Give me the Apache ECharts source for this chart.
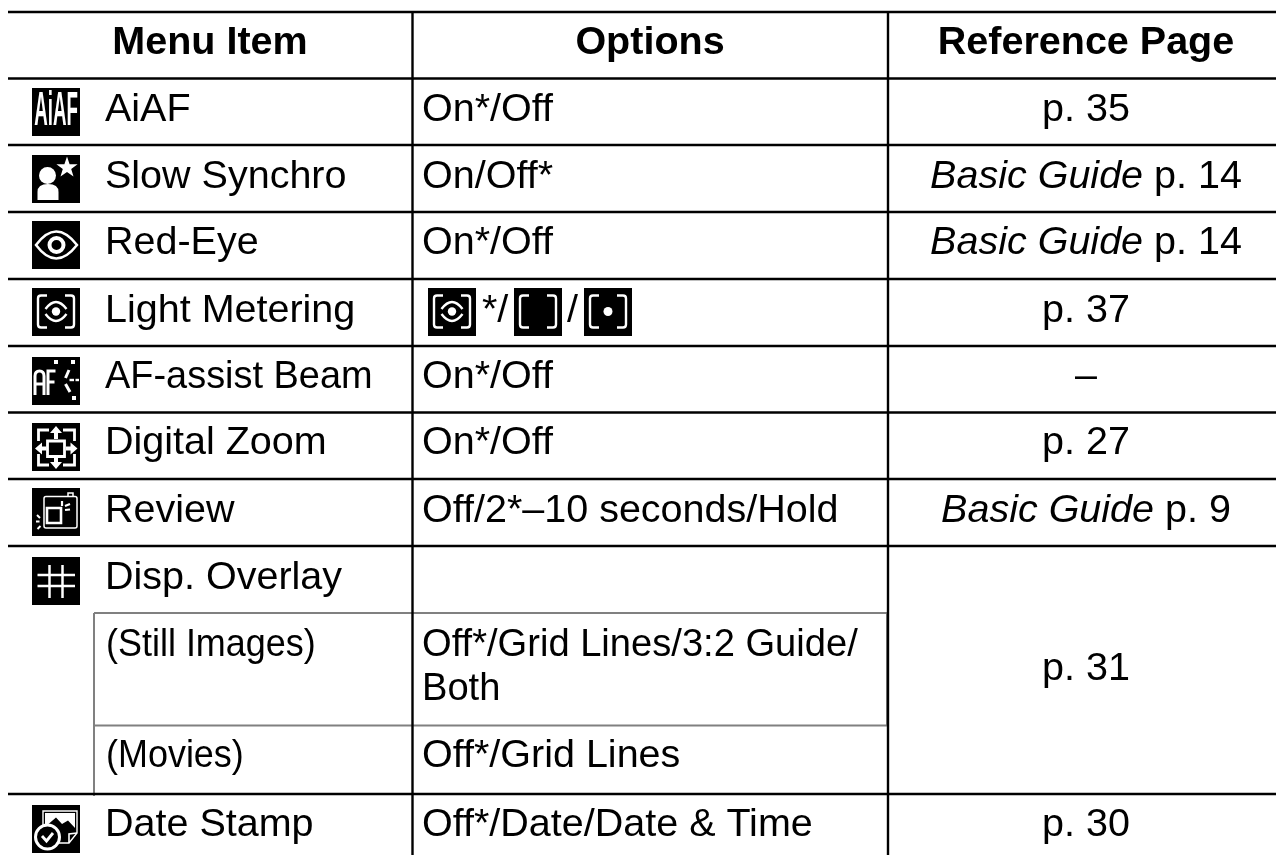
<!DOCTYPE html>
<html>
<head>
<meta charset="utf-8">
<style>html,body{margin:0;padding:0;background:#fff}#main{width:1276px;height:855px}</style>
<script src="https://cdn.jsdelivr.net/npm/echarts@6/dist/echarts.min.js"></script>
</head>
<body>
<div id="main"></div>
<script>
// table content
var headers = ['Menu Item', 'Options', 'Reference Page'];
var menuItems = ['AiAF', 'Slow Synchro', 'Red-Eye', 'Light Metering', 'AF-assist Beam', 'Digital Zoom', 'Review', 'Disp. Overlay', '(Still Images)', '(Movies)', 'Date Stamp'];
var optionItems = ['On*/Off', 'On/Off*', 'On*/Off', '', 'On*/Off', 'On*/Off', 'Off/2*\u201310 seconds/Hold', '', 'Off*/Grid Lines/3:2 Guide/\nBoth', 'Off*/Grid Lines', 'Off*/Date/Date & Time'];
var pageItems = ['p. 35', '{i|Basic Guide} p. 14', '{i|Basic Guide} p. 14', 'p. 37', '\u2013', 'p. 27', '{i|Basic Guide} p. 9', '', '', '', 'p. 30'];
var iconNames = ['aiaf', 'slow', 'eye', 'evaluative', 'afbeam', 'zoom', 'review', 'grid', '', '', 'date'];

// layout, in the units of the pixel sized axes
var rowEdges = [12, 78.5, 145, 212, 279, 346, 412.5, 479, 546, 613, 725.5, 794, 855];
var colEdges = [8, 412.5, 888, 1276];
var headerCenters = [210, 650, 1086];
var pageCenter = 1086;
var subColX = 94;
var rowBaselines = [124, 191, 257, 325, 391, 457, 525, 592, 659, 770, 839];
var menuScale = [1, 1, 1, 1, 0.96, 1, 1, 1, 0.91, 0.91, 1];
var iconTops = [88, 155, 221, 288, 357, 423, 488, 557, null, null, 805];
var iconLeft = 32;
var menuTextX = 105;
var subTextX = 106;
var optionTextX = 422;
var headerBaseline = 57;
var mergedPage = { text: 'p. 31', baseline: 683 };
var meterIcons = [
    { name: 'evaluative', x: 428 },
    { name: 'center', x: 514 },
    { name: 'spot', x: 584 }
];
var meterMarks = [{ text: '*/', x: 482 }, { text: '/', x: 567 }];

var FONT = '"Liberation Sans", Arial, sans-serif';
var FS = 39.5;
var MID = 0.3465 * FS; // distance from baseline up to the middle of the em box

function line(x1, y1, x2, y2, w, c) {
    return { type: 'line', shape: { x1: x1, y1: y1, x2: x2, y2: y2 }, style: { stroke: c || '#fff', lineWidth: w || 2.5, fill: null } };
}
function path(d, w, fill) {
    return { type: 'path', shape: { pathData: d, layout: 'none' }, style: { stroke: w ? '#fff' : null, lineWidth: w || 0, fill: fill || null } };
}
function circle(cx, cy, r, w, fill) {
    return { type: 'circle', shape: { cx: cx, cy: cy, r: r }, style: { stroke: w ? '#fff' : null, lineWidth: w || 0, fill: fill || null } };
}
var FRAME = 'M15 7.5H9Q6 7.5 6 10.5V36.5Q6 39.5 9 39.5H15M33 7.5H39Q42 7.5 42 10.5V36.5Q42 39.5 39 39.5H33';

var iconParts = {
    aiaf: function () {
        return [{ type: 'text', x: 24, y: 24, scaleX: 0.39,
            style: { text: 'AiAF', x: 0, y: 0, fill: '#fff', font: 'bold 48px ' + FONT, align: 'center', verticalAlign: 'middle' } }];
    },
    slow: function () {
        return [
            circle(15.5, 20.5, 8.5, 0, '#fff'),
            path('M5.5 45V37Q5.5 29 16 29Q26.5 29 26.5 37V45Z', 0, '#fff'),
            path('M35 1.5L37.6 9.2H45.6L39.2 14L41.5 21.5L35 17L28.5 21.5L30.8 14L24.4 9.2H32.4Z', 0, '#fff')
        ];
    },
    eye: function () {
        return [
            path('M4 24Q24 -3 45 24Q24 51 4 24Z', 2.5),
            circle(24.5, 24, 7, 4)
        ];
    },
    evaluative: function () {
        return [
            path(FRAME, 2.4),
            circle(24, 23.5, 4.2, 0, '#fff'),
            path('M13.5 21Q24 7 34.5 21M13.5 26Q24 40 34.5 26', 2.4)
        ];
    },
    center: function () {
        return [path(FRAME, 2.4)];
    },
    spot: function () {
        return [path(FRAME, 2.4), circle(24, 23.5, 4.5, 0, '#fff')];
    },
    afbeam: function () {
        return [
            path('M3 38V19Q3 14 7.5 14Q12 14 12 19V38M3 27H12', 3),
            path('M16 38V14H23.5M16 25H22.5', 3),
            path('M22 3h4v4h-4zM39 3h4v4h-4zM40 39h4v4h-4z', 0, '#fff'),
            line(37, 13, 33.5, 21, 3),
            line(33.5, 27, 38, 35, 3),
            line(37.5, 23, 42, 23, 2.4),
            line(43.5, 23, 47, 23, 2.4)
        ];
    },
    zoom: function () {
        return [
            path('M6.5 18V7H17M31 7H42.5V18M6.5 31V42H17M31 42H42.5V31', 2.8),
            path('M15.5 18H32.5V33.5H15.5Z', 2.8),
            path('M24 3L30 10H26V16H22V10H18ZM24 46L30 39H26V34H22V39H18ZM3 25.5L10 19.5V23.5H14.5V27.5H10V31.5ZM45.5 25.5L38.5 19.5V23.5H34V27.5H38.5V31.5Z', 0, '#fff')
        ];
    },
    review: function () {
        return [
            path('M14 8.5H43Q45 8.5 45 10.5V38Q45 40 43 40H14Q12 40 12 38V10.5Q12 8.5 14 8.5ZM36 8V5H41V8', 1.5),
            path('M15 20H29V35H15Z', 2.6),
            line(30, 13, 30, 18, 2.2),
            line(33, 18, 38, 16, 2.2),
            line(33, 22, 38, 21.5, 2.2),
            line(5, 27, 8, 30, 2),
            line(4, 33.5, 7.5, 33.5, 2),
            line(5.5, 41, 8.5, 38, 2)
        ];
    },
    grid: function () {
        return [
            line(5.5, 18, 43, 18),
            line(5.5, 29, 43, 29),
            line(17.5, 8, 17.5, 41),
            line(30.5, 8, 30.5, 41)
        ];
    },
    date: function () {
        return [
            path('M11 6H45V28L37 38H11Z', 1.4),
            path('M13 8H43V23L36 15.5L30 19L24 12.5L13 22Z', 0, '#fff'),
            path('M45 28L37 29V38', 1.6),
            { type: 'circle', shape: { cx: 15.5, cy: 32, r: 12 }, style: { fill: '#000', stroke: '#fff', lineWidth: 3 } },
            path('M10 31L14.5 36L21 28', 2.8)
        ];
    }
};

function textItem(api, str, x, baseline, align, sx, extra) {
    var p = api.coord([x, baseline]);
    var style = { text: str, x: 0, y: 0, fill: '#000', fontFamily: FONT, fontSize: FS, align: align, verticalAlign: 'middle',
        rich: { i: { fontStyle: 'italic', fontFamily: FONT, fontSize: FS, fill: '#000' } } };
    for (var k in extra) style[k] = extra[k];
    return { type: 'text', x: p[0], y: p[1] - MID, scaleX: sx || 1, style: style };
}

function iconItem(api, name, x, y) {
    var p = api.coord([x, y]);
    var parts = [{ type: 'rect', shape: { x: 0, y: 0, width: 48, height: 48 }, style: { fill: '#000' } }];
    return { type: 'group', x: p[0], y: p[1], children: parts.concat(iconParts[name]()) };
}

function ruleItem(api, x1, y1, x2, y2, color, width) {
    var a = api.coord([x1, y1]), b = api.coord([x2, y2]);
    return { type: 'line', shape: { x1: a[0], y1: a[1], x2: b[0], y2: b[1] }, style: { stroke: color, lineWidth: width } };
}

function renderRules(params, api) {
    var kids = [];
    var left = colEdges[0], right = colEdges[3], bottom = rowEdges[12];
    // gray sub rows sit under the black ones
    kids.push(ruleItem(api, subColX, rowEdges[9], colEdges[2], rowEdges[9], '#808080', 2));
    kids.push(ruleItem(api, subColX, rowEdges[10], colEdges[2], rowEdges[10], '#808080', 2));
    kids.push(ruleItem(api, subColX, rowEdges[9], subColX, rowEdges[11] + 2, '#808080', 2));
    kids.push(ruleItem(api, colEdges[2] - 1.2, rowEdges[9], colEdges[2] - 1.2, rowEdges[10], '#808080', 1.5));
    rowEdges.slice(0, 12).forEach(function (y, i) {
        if (i === 9 || i === 10) return;
        kids.push(ruleItem(api, left, y, right, y, '#000', 2.6));
    });
    kids.push(ruleItem(api, colEdges[1], rowEdges[0], colEdges[1], bottom, '#000', 2.4));
    kids.push(ruleItem(api, colEdges[2], rowEdges[0], colEdges[2], bottom, '#000', 2.4));
    return { type: 'group', children: kids };
}

function renderCells(params, api) {
    var i = api.value(0);
    var kids = [];
    var base = rowBaselines[i];
    var isSub = menuItems[i].charAt(0) === '(';
    kids.push(textItem(api, menuItems[i], isSub ? subTextX : menuTextX, base, 'left', menuScale[i]));
    if (optionItems[i]) {
        var multi = optionItems[i].indexOf('\n') > 0;
        kids.push(textItem(api, optionItems[i], optionTextX, multi ? base + 22 : base, 'left', multi ? 0.965 : 1, multi ? { lineHeight: 44 } : {}));
    }
    if (pageItems[i]) {
        kids.push(textItem(api, pageItems[i], pageCenter, base, 'center'));
    }
    if (iconNames[i]) {
        kids.push(iconItem(api, iconNames[i], iconLeft, iconTops[i]));
    }
    return { type: 'group', children: kids };
}

function renderExtras(params, api) {
    var kids = [];
    headers.forEach(function (h, i) {
        kids.push(textItem(api, h, headerCenters[i], headerBaseline, 'center', 1, { fontWeight: 'bold' }));
    });
    kids.push(textItem(api, mergedPage.text, pageCenter, mergedPage.baseline, 'center'));
    meterIcons.forEach(function (m) {
        kids.push(iconItem(api, m.name, m.x, iconTops[3]));
    });
    meterMarks.forEach(function (m) {
        kids.push(textItem(api, m.text, m.x, rowBaselines[3], 'left'));
    });
    return { type: 'group', children: kids };
}

var myChart = echarts.init(document.getElementById('main'), null, { renderer: 'canvas' });
var option = {
    animation: false,
    backgroundColor: '#fff',
    grid: { left: 0, right: 0, top: 0, bottom: 0 },
    xAxis: { type: 'value', min: 0, max: 1276, show: false },
    yAxis: { type: 'value', min: 0, max: 855, inverse: true, show: false },
    series: [
        { type: 'custom', name: 'rules', coordinateSystem: 'cartesian2d', silent: true, renderItem: renderRules, data: [[0]], z: 1 },
        { type: 'custom', name: 'cells', coordinateSystem: 'cartesian2d', silent: true, renderItem: renderCells,
            data: menuItems.map(function (m, i) { return [i]; }), encode: { x: 0, y: 0 }, z: 2 },
        { type: 'custom', name: 'extras', coordinateSystem: 'cartesian2d', silent: true, renderItem: renderExtras, data: [[0]], z: 2 }
    ]
};
myChart.setOption(option);
window.addEventListener('resize', function () {
    myChart.resize();
});
</script>
</body>
</html>
